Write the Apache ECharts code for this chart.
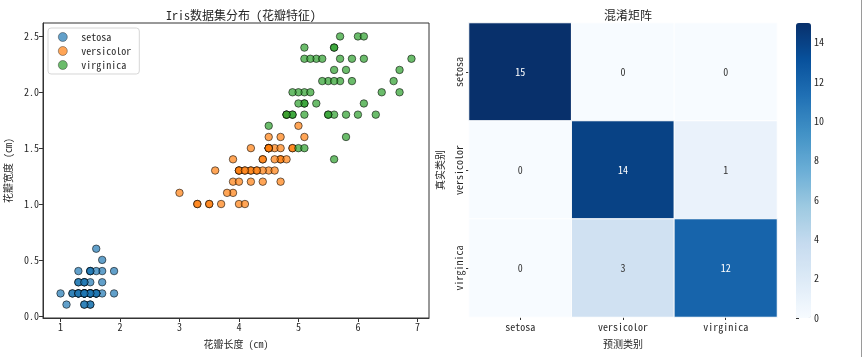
<!DOCTYPE html>
<html>
<head>
<meta charset="utf-8">
<script src="https://cdn.jsdelivr.net/npm/echarts@6/dist/echarts.min.js"></script>
<style>html,body{margin:0;padding:0;background:#fff}#c{width:865px;height:357px}</style>
</head>
<body>
<div id="c"></div>
<script>
// ---- Data (iris petal features) ----
const setosaLength = [1.4,1.4,1.3,1.5,1.4,1.7,1.4,1.5,1.4,1.5,1.5,1.6,1.4,1.1,1.2,1.5,1.3,1.4,1.7,1.5,1.7,1.5,1.0,1.7,1.9,1.6,1.6,1.5,1.4,1.6,1.6,1.5,1.5,1.4,1.5,1.2,1.3,1.4,1.3,1.5,1.3,1.3,1.3,1.6,1.9,1.4,1.6,1.4,1.5,1.4];
const setosaWidth  = [0.2,0.2,0.2,0.2,0.2,0.4,0.3,0.2,0.2,0.1,0.2,0.2,0.1,0.1,0.2,0.4,0.4,0.3,0.3,0.3,0.2,0.4,0.2,0.5,0.2,0.2,0.4,0.2,0.2,0.2,0.2,0.4,0.1,0.2,0.2,0.2,0.2,0.1,0.2,0.2,0.3,0.3,0.2,0.6,0.4,0.3,0.2,0.2,0.2,0.2];
const versicolorLength = [4.7,4.5,4.9,4.0,4.6,4.5,4.7,3.3,4.6,3.9,3.5,4.2,4.0,4.7,3.6,4.4,4.5,4.1,4.5,3.9,4.8,4.0,4.9,4.7,4.3,4.4,4.8,5.0,4.5,3.5,3.8,3.7,3.9,5.1,4.5,4.5,4.7,4.4,4.1,4.0,4.4,4.6,4.0,3.3,4.2,4.2,4.2,4.3,3.0,4.1];
const versicolorWidth  = [1.4,1.5,1.5,1.3,1.5,1.3,1.6,1.0,1.3,1.4,1.0,1.5,1.0,1.4,1.3,1.4,1.5,1.0,1.5,1.1,1.8,1.3,1.5,1.2,1.3,1.4,1.4,1.7,1.5,1.0,1.1,1.0,1.2,1.6,1.5,1.6,1.5,1.3,1.3,1.3,1.2,1.4,1.2,1.0,1.3,1.2,1.3,1.3,1.1,1.3];
const virginicaLength = [6.0,5.1,5.9,5.6,5.8,6.6,4.5,6.3,5.8,6.1,5.1,5.3,5.5,5.0,5.1,5.3,5.5,6.7,6.9,5.0,5.7,4.9,6.7,4.9,5.7,6.0,4.8,4.9,5.6,5.8,6.1,6.4,5.6,5.1,5.6,6.1,5.6,5.5,4.8,5.4,5.6,5.1,5.1,5.9,5.7,5.2,5.0,5.2,5.4,5.1];
const virginicaWidth  = [2.5,1.9,2.1,1.8,2.2,2.1,1.7,1.8,1.8,2.5,2.0,1.9,2.1,2.0,2.4,2.3,1.8,2.2,2.3,1.5,2.3,2.0,2.0,1.8,2.1,1.8,1.8,1.8,2.1,1.6,1.9,2.0,2.2,1.5,1.4,2.3,2.4,1.8,1.8,2.1,2.4,2.3,1.9,2.3,2.5,2.3,1.9,2.0,2.3,1.8];

const classNames = ['setosa','versicolor','virginica'];
// confusion matrix rows = true class, cols = predicted class
const confusionRows = [
  [15, 0, 0],
  [0, 14, 1],
  [0, 3, 12]
];
const xTicks = [1,2,3,4,5,6,7];
const yTicks = [0.0,0.5,1.0,1.5,2.0,2.5];
const colorbarTicks = [0,2,4,6,8,10,12,14];

// ---- Build ----
const zip = (a,b) => a.map((v,i)=>[v,b[i]]);
const FONT = "'Noto Sans Mono CJK SC','Noto Sans CJK SC','DejaVu Sans Mono',sans-serif";
const TXT = '#262626';
const blues = ['#f7fbff','#deebf7','#c6dbef','#9ecae1','#6baed6','#4292c6','#2171b5','#08519c','#08306b'];

const heatData = [];
confusionRows.forEach((row,r)=>row.forEach((v,c)=>{
  heatData.push({value:[c,r,v], label:{color: v > 7.5 ? '#ffffff' : '#333333'}});
}));

function scatterSeries(name, color, xs, ys){
  return {
    name, type:'scatter', xAxisIndex:0, yAxisIndex:0,
    data: zip(xs, ys), symbol:'circle', symbolSize:7.5,
    itemStyle:{color, borderColor:'#000', borderWidth:0.8, opacity:0.7},
    emphasis:{disabled:true}
  };
}

const chart = echarts.init(document.getElementById('c'), null, {renderer:'canvas'});
chart.setOption({
  animation:false,
  textStyle:{fontFamily:FONT},
  title:[
    {text:'Iris数据集分布 (花瓣特征)', left:236, top:4, textAlign:'center',
     textStyle:{fontSize:12, fontWeight:'normal', color:TXT, fontFamily:FONT}},
    {text:'混淆矩阵', left:623, top:4, textAlign:'center',
     textStyle:{fontSize:12, fontWeight:'normal', color:TXT, fontFamily:FONT}}
  ],
  legend:{
    data:classNames, orient:'vertical', left:48, top:28,
    itemWidth:9, itemHeight:9, itemGap:4, icon:'circle',
    itemStyle:{borderWidth:0.6, borderColor:'#222'},
    padding:[4,8,4,10], borderColor:'#d6d6d6', borderWidth:1, borderRadius:3,
    backgroundColor:'rgba(255,255,255,0.8)',
    textStyle:{fontSize:10, color:TXT, fontFamily:FONT, padding:[0,0,0,9]},
    selectedMode:false
  },
  grid:[
    {left:43, right:436, top:23, bottom:39, show:true, borderColor:'#333', borderWidth:1, backgroundColor:'transparent'},
    {left:469, right:88, top:23, bottom:40},
    {left:796, width:15, top:23, height:295}
  ],
  xAxis:[
    {type:'value', gridIndex:0, min:0.705, max:7.195,
     name:'花瓣长度 (cm)', nameLocation:'middle', nameGap:21,
     nameTextStyle:{fontSize:10, color:TXT, fontFamily:FONT},
     axisLine:{show:true, onZero:false, lineStyle:{color:'#333'}},
     axisTick:{show:true, length:4, lineStyle:{color:'#333'}, customValues:xTicks},
     axisLabel:{fontSize:10, color:TXT, margin:4, customValues:xTicks},
     splitLine:{show:false}},
    {type:'category', gridIndex:1, data:classNames,
     name:'预测类别', nameLocation:'middle', nameGap:22,
     nameTextStyle:{fontSize:10, color:TXT, fontFamily:FONT},
     axisLine:{show:false}, axisTick:{show:true, alignWithLabel:true, length:3, lineStyle:{color:'#333'}},
     axisLabel:{fontSize:10, color:TXT, margin:5}, splitArea:{show:false}},
    {type:'value', gridIndex:2, show:false, min:0, max:1}
  ],
  yAxis:[
    {type:'value', gridIndex:0, min:-0.02, max:2.62,
     name:'花瓣宽度 (cm)', nameLocation:'middle', nameGap:30, nameRotate:90,
     nameTextStyle:{fontSize:10, color:TXT, fontFamily:FONT},
     axisLine:{show:true, onZero:false, lineStyle:{color:'#333'}},
     axisTick:{show:true, length:4, lineStyle:{color:'#333'}, customValues:yTicks},
     axisLabel:{fontSize:10, color:TXT, margin:4, customValues:yTicks, formatter:v=>v.toFixed(1)},
     splitLine:{show:false}},
    {type:'category', gridIndex:1, data:classNames, inverse:true,
     name:'真实类别', nameLocation:'middle', nameGap:24, nameRotate:90,
     nameTextStyle:{fontSize:10, color:TXT, fontFamily:FONT},
     axisLine:{show:false}, axisTick:{show:true, alignWithLabel:true, length:3, lineStyle:{color:'#333'}},
     axisLabel:{fontSize:10, color:TXT, rotate:90, margin:5}, splitArea:{show:false}},
    {type:'value', gridIndex:2, position:'right', min:0, max:15,
     axisLine:{show:false}, axisTick:{show:true, length:3, lineStyle:{color:'#333'}, customValues:colorbarTicks},
     axisLabel:{fontSize:10, color:TXT, margin:3, customValues:colorbarTicks},
     splitLine:{show:false}}
  ],
  visualMap:{
    type:'continuous', seriesIndex:3, min:0, max:15, calculable:false,
    orient:'vertical', left:796, top:23, itemWidth:15, itemHeight:295,
    padding:0, text:null, showLabel:false, hoverLink:false,
    inRange:{color:blues}
  },
  series:[
    scatterSeries('setosa', '#1f77b4', setosaLength, setosaWidth),
    scatterSeries('versicolor', '#ff7f0e', versicolorLength, versicolorWidth),
    scatterSeries('virginica', '#2ca02c', virginicaLength, virginicaWidth),
    {type:'heatmap', xAxisIndex:1, yAxisIndex:1, data:heatData,
     label:{show:true, fontSize:10, fontFamily:FONT},
     itemStyle:{borderColor:'#ffffff', borderWidth:1},
     emphasis:{disabled:true}},
    {type:'line', xAxisIndex:2, yAxisIndex:2, data:[], silent:true}
  ],
  graphic:[
    {type:'line', shape:{x1:861.5,y1:0,x2:861.5,y2:357}, style:{stroke:'#9a9a9a', lineWidth:1}, silent:true}
  ]
});
</script>
</body>
</html>
